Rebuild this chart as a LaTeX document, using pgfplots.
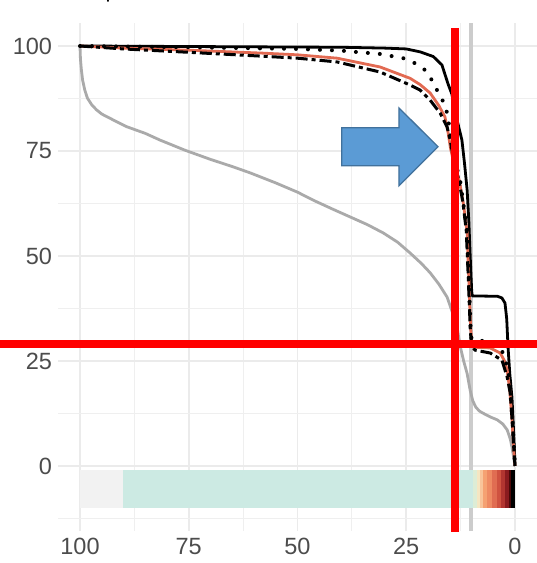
\documentclass[border=0pt]{standalone}
\usepackage{pgfplots}
\pgfplotsset{compat=1.18}
\usepackage{fontspec}
\setmainfont{Liberation Sans}

\definecolor{gridc}{HTML}{EBEBEB}
\definecolor{greyline}{HTML}{AAAAAA}
\definecolor{vline}{HTML}{CCCCCC}
\definecolor{orangeln}{HTML}{E26A52}
\definecolor{arrowfill}{HTML}{5B9BD5}
\definecolor{arrowedge}{HTML}{41719C}
\definecolor{b1}{HTML}{F2F2F2}
\definecolor{b2}{HTML}{CCEAE3}
\definecolor{b3}{HTML}{DDEDD6}
\definecolor{b4}{HTML}{F5E6C2}
\definecolor{b5}{HTML}{F8C49A}
\definecolor{b6}{HTML}{F5A172}
\definecolor{b7}{HTML}{EE8A63}
\definecolor{b8}{HTML}{E06D52}
\definecolor{b9}{HTML}{CF5240}
\definecolor{b10}{HTML}{B23530}
\definecolor{b11}{HTML}{8A1B1F}
\definecolor{b12}{HTML}{4A0808}
\definecolor{b13}{HTML}{000000}

\begin{document}
\begin{tikzpicture}
\path[use as bounding box] (0,0) rectangle (537pt,563pt);
% cropped title above the panel
\node[anchor=base west, inner sep=0pt, font=\fontsize{22}{26}\selectfont] at (105.5pt,565pt) {p};
\begin{axis}[
  at={(58.25pt,31.9pt)}, anchor=south west,
  scale only axis, width=478.5pt, height=508.2pt,
  x dir=reverse,
  xmin=-5, xmax=105, ymin=-15.5, ymax=105.5,
  xtick={0,25,50,75,100}, ytick={0,25,50,75,100},
  minor xtick={12.5,37.5,62.5,87.5},
  minor ytick={-12.5,12.5,37.5,62.5,87.5},
  grid=both,
  major grid style={draw=gridc, line width=1.6pt},
  minor grid style={draw=gridc!80, line width=1pt},
  axis line style={draw=none},
  tick style={draw=none},
  /pgf/number format/assume math mode=true,
  tick label style={font=\fontsize{23.5}{28}\selectfont, text=black!70, inner sep=0pt},
  xticklabel style={yshift=-7pt},
  yticklabel style={xshift=-6pt},
  clip=false,
]
% reference line at 10
\addplot[vline, line width=4pt] coordinates {(10,-15.5) (10,105.5)};

% colour strip
\addplot[fill=b1, draw=none] coordinates {(100,-1) (89.9,-1) (89.9,-10) (100,-10)} -- cycle;
\addplot[fill=b2, draw=none] coordinates {(90,-1) (9.55,-1) (9.55,-10) (90,-10)} -- cycle;
\addplot[fill=b3, draw=none] coordinates {(9.6,-1) (8.75,-1) (8.75,-10) (9.6,-10)} -- cycle;
\addplot[fill=b4, draw=none] coordinates {(8.8,-1) (7.95,-1) (7.95,-10) (8.8,-10)} -- cycle;
\addplot[fill=b5, draw=none] coordinates {(8.0,-1) (7.25,-1) (7.25,-10) (8.0,-10)} -- cycle;
\addplot[fill=b6, draw=none] coordinates {(7.3,-1) (6.35,-1) (6.35,-10) (7.3,-10)} -- cycle;
\addplot[fill=b7, draw=none] coordinates {(6.4,-1) (5.15,-1) (5.15,-10) (6.4,-10)} -- cycle;
\addplot[fill=b8, draw=none] coordinates {(5.2,-1) (4.15,-1) (4.15,-10) (5.2,-10)} -- cycle;
\addplot[fill=b9, draw=none] coordinates {(4.2,-1) (3.15,-1) (3.15,-10) (4.2,-10)} -- cycle;
\addplot[fill=b10, draw=none] coordinates {(3.2,-1) (2.25,-1) (2.25,-10) (3.2,-10)} -- cycle;
\addplot[fill=b11, draw=none] coordinates {(2.3,-1) (1.25,-1) (1.25,-10) (2.3,-10)} -- cycle;
\addplot[fill=b12, draw=none] coordinates {(1.3,-1) (0.85,-1) (0.85,-10) (1.3,-10)} -- cycle;
\addplot[fill=b13, draw=none] coordinates {(0.9,-1) (0.1,-1) (0.1,-10) (0.9,-10)} -- cycle;

% grey curve
\addplot[greyline, line width=2.8pt, line join=round] coordinates {
 (100,100) (99.9,97) (99.7,94.5) (99.4,91.9) (98.9,89.5) (98.3,87.6) (97.3,86)
 (96.2,84.8) (95,83.8) (92,82.2)
 (89.3,80.8) (85,79.2) (81.6,77.6) (75.9,75.2) (70,73) (65,71.3) (60.9,69.8)
 (55,67.4) (50,65.2) (46.4,63.3) (42,61.2) (37.9,59.3) (34,57.5) (30.3,55.5)
 (27,53.3) (24.1,50.7) (21.5,48.2) (19.5,46) (17.5,43.3) (15.6,40.2) (14.2,36)
 (13.3,33) (12.6,28.5) (11.8,25) (11,22) (10.3,18) (9.7,15.5) (9,14) (8.2,13.1)
 (7.4,12.6) (5.5,11.6) (4.1,11) (2.8,10) (1.8,8.6) (1.1,6.5) (0.7,4.5) (0.3,2) (0,0)};

% black solid
\addplot[black, line width=2.8pt, line join=round] coordinates {
 (100,100) (80,99.9) (60,99.8) (40,99.7) (30,99.5) (25,99.3) (21.8,98.6)
 (18.8,97.5) (16.8,95.5) (15.4,91) (14.5,88.5) (13.8,84.5) (13,81) (12.2,77.6)
 (11.6,72) (11,65.7) (10.6,58) (10.3,50) (10.1,45) (9.95,41.5) (9.8,40.5)
 (4,40.4) (3,40) (2.3,38.8) (1.9,35) (1.6,28.3) (1.2,22) (0.7,16.4) (0.4,10)
 (0.1,3) (0,0)};

% orange solid
\addplot[orangeln, line width=2.8pt, line join=round] coordinates {
 (100,100) (90,99.5) (75,99) (58,98.3) (50,97.9) (40.9,97.1) (31,95)
 (24.1,92.3) (21.8,90.8) (19.5,88.8) (17.5,85.8) (16.1,83.1) (15.4,79.5)
 (14.8,75.5) (13.8,71) (12.8,68) (11.8,62) (11,55.5) (10.6,44) (10.2,33)
 (9.9,29) (9.7,28.3) (5.7,28.1) (3.4,26.9) (2.4,25) (1.8,22.9) (1.2,18)
 (0.7,11) (0.3,4) (0,0)};

% black dotted
\addplot[black, line width=4pt, line cap=round, dash pattern=on 0pt off 12pt] coordinates {
 (100,100) (75,99.7) (50,99.3) (40,98.9) (36.8,98.6) (31,98.1) (25.7,97.1)
 (23,95.9) (20.7,94.3) (18.8,91.4) (17.7,89) (16.1,86) (15.4,83.1) (14.6,76)
 (13.5,71.5) (12.6,68) (11.8,62) (11,56) (10.6,44) (10.2,33) (10,30.5)
 (9.5,29.9) (7.6,29.8) (5,29) (3,27.5) (2.2,25) (1.6,23) (1.1,18) (0.6,11)
 (0.2,4) (0,0)};

% black dot-dash
\addplot[black, line width=3pt, dash pattern=on 12pt off 4pt on 4pt off 4pt] coordinates {
 (100,100) (90,99.3) (75,98.5) (58.6,97.6) (50,97.1) (40.9,96.2) (31,93.8)
 (24.1,90.7) (21.8,89.5) (19.5,87.1) (17.2,84) (15.6,80.7) (14.9,77.6)
 (13.9,72) (13,68.5) (12,63) (11.2,56) (10.7,44) (10.3,33) (10,28.5)
 (9.2,27.6) (5.7,26.9) (3,25.2) (1.8,21.2) (1.1,17.4) (0.6,10) (0.2,3) (0,0)};

% annotations
\draw[red, line width=8pt] (axis cs:13.8,104.3) -- (axis cs:13.8,-15.7);
\draw[red, line width=8pt] (axis cs:118.5,29.05) -- (axis cs:-5.3,29.05);
\draw[fill=arrowfill, draw=arrowedge, line width=1.3pt, line join=miter]
 (axis cs:39.84,80.55) -- (axis cs:26.67,80.55) -- (axis cs:26.67,85.24)
 -- (axis cs:17.70,76.02) -- (axis cs:26.67,66.74) -- (axis cs:26.67,71.5)
 -- (axis cs:39.84,71.5) -- cycle;
\end{axis}
\end{tikzpicture}
\end{document}
